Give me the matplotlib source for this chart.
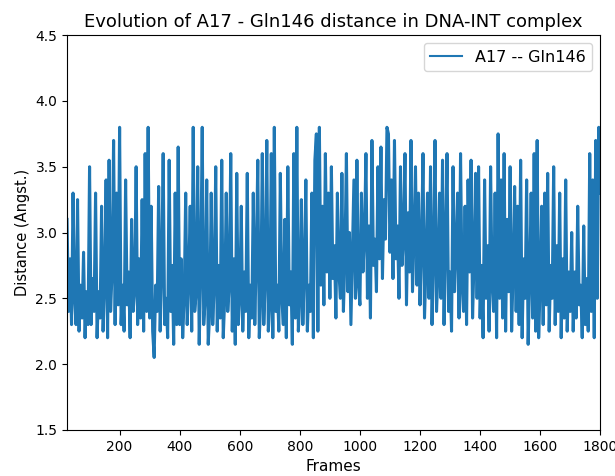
# plot.py
# A17 - Gln146 distance over the trajectory (every 5 frames).

import numpy as np
import matplotlib
matplotlib.use("Agg")
import matplotlib.pyplot as plt

# --- data ---
first_frame = 25
last_frame = 1800
frame_step = 5

distance = [
    # 25-95
    3.1, 2.4, 2.8, 2.3, 3.3, 2.5, 2.3, 3.25, 2.25, 2.6, 2.35, 2.85, 2.2, 2.55, 2.3,
    # 100-195
    3.5, 2.3, 2.65, 2.4, 3.3, 2.2, 2.55, 2.35, 3.2, 2.25, 2.6, 3.4, 2.2, 3.55, 2.4, 2.7, 3.7, 2.3, 3.3, 2.45,
    # 200-295
    3.8, 2.3, 2.6, 2.25, 3.4, 2.45, 2.7, 2.2, 3.1, 2.4, 2.55, 3.5, 2.3, 2.8, 2.35, 3.25, 2.25, 3.6, 2.4, 3.8,
    # 300-395
    2.35, 3.2, 2.25, 2.05, 2.6, 2.4, 3.35, 2.25, 2.7, 3.6, 2.3, 2.5, 2.2, 3.55, 2.4, 2.75, 2.15, 3.3, 2.3, 3.65,
    # 400-495
    2.3, 2.8, 2.2, 2.5, 3.3, 2.3, 2.65, 3.2, 2.25, 3.8, 2.4, 2.55, 3.5, 2.15, 2.7, 3.8, 2.3, 2.5, 3.4, 2.15,
    # 500-595
    2.4, 3.3, 2.3, 2.6, 3.5, 2.25, 2.75, 2.35, 3.55, 2.2, 2.5, 3.3, 2.4, 2.6, 3.6, 2.25, 2.8, 2.15, 3.45, 2.3,
    # 600-695
    2.5, 3.2, 2.25, 2.7, 2.4, 3.45, 2.2, 2.6, 2.35, 3.3, 2.3, 2.8, 3.55, 2.2, 2.5, 3.6, 2.3, 2.65, 3.7, 2.25,
    # 700-795
    2.45, 3.6, 2.2, 3.8, 2.4, 2.6, 2.25, 3.45, 2.5, 2.3, 3.1, 2.2, 3.5, 2.45, 2.7, 2.15, 3.6, 2.35, 3.8, 2.25,
    # 800-895
    2.5, 3.25, 2.3, 2.7, 3.4, 2.25, 2.6, 2.4, 3.3, 2.2, 3.55, 3.75, 2.25, 3.8, 2.6, 3.2, 2.45, 3.6, 2.7, 3.3,
    # 900-995
    2.5, 3.5, 2.65, 2.9, 2.35, 3.3, 2.7, 2.5, 3.45, 2.4, 2.8, 3.6, 2.55, 3.0, 2.3, 2.85, 3.4, 2.5, 3.55, 2.6,
    # 1000-1095
    2.45, 3.3, 2.7, 2.95, 3.6, 2.5, 3.05, 2.35, 3.7, 2.75, 2.95, 2.55, 3.5, 2.8, 3.65, 2.65, 3.25, 2.95, 3.8, 3.75,
    # 1100-1195
    2.85, 3.4, 2.65, 3.7, 2.8, 3.05, 2.5, 3.5, 2.75, 2.95, 3.6, 2.45, 3.15, 2.7, 3.7, 2.55, 2.95, 3.5, 2.6, 3.3,
    # 1200-1295
    2.45, 2.9, 3.6, 2.35, 2.75, 3.3, 2.5, 3.5, 2.3, 2.8, 3.7, 2.4, 2.7, 3.3, 2.5, 3.55, 2.3, 2.9, 3.6, 2.4,
    # 1300-1395
    2.7, 2.25, 3.5, 2.55, 2.85, 3.3, 2.35, 3.6, 2.6, 2.4, 3.2, 2.3, 3.4, 2.7, 3.55, 2.35, 2.8, 3.45, 2.5, 3.5,
    # 1400-1495
    2.35, 2.75, 2.2, 3.4, 2.5, 2.9, 2.25, 3.5, 2.6, 2.4, 3.3, 2.2, 3.75, 2.5, 3.4, 2.35, 3.6, 2.25, 3.1, 2.55,
    # 1500-1595
    3.5, 2.25, 2.7, 3.35, 2.4, 3.2, 2.3, 3.55, 2.2, 2.8, 2.5, 3.4, 2.15, 2.65, 3.3, 2.35, 3.6, 2.25, 3.7, 2.2,
    # 1600-1695
    2.6, 3.2, 2.3, 3.3, 2.45, 3.45, 2.25, 2.75, 2.5, 3.5, 2.3, 2.9, 2.4, 3.3, 2.2, 2.8, 2.35, 3.4, 2.25, 2.7,
    # 1700-1795
    2.4, 3.0, 2.25, 2.7, 2.35, 3.2, 2.45, 2.6, 2.2, 3.05, 2.3, 2.65, 2.25, 3.6, 2.4, 3.4, 2.2, 3.7, 2.5, 3.8,
    # 1800
    3.3,
]

frames = np.arange(first_frame, last_frame + 1, frame_step)
assert len(frames) == len(distance)


def main():
    fig = plt.figure(figsize=(6.15, 4.76), dpi=100)
    ax = fig.add_axes([0.109, 0.097, 0.867, 0.829])

    ax.plot(frames, distance, color="#1f77b4", lw=2.2, label="A17 -- Gln146")

    ax.set_xlim(first_frame, last_frame)
    ax.set_ylim(1.5, 4.5)
    ax.set_xticks(np.arange(200, 1801, 200))
    ax.set_title("Evolution of A17 - Gln146 distance in DNA-INT complex", fontsize=13)
    ax.set_xlabel("Frames", fontsize=11)
    ax.set_ylabel("Distance (Angst.)", fontsize=10.5)
    leg = ax.legend(loc="upper right", fontsize=11.5)
    leg.get_lines()[0].set_linewidth(1.5)

    fig.savefig("out.png", dpi=100)


if __name__ == "__main__":
    main()
